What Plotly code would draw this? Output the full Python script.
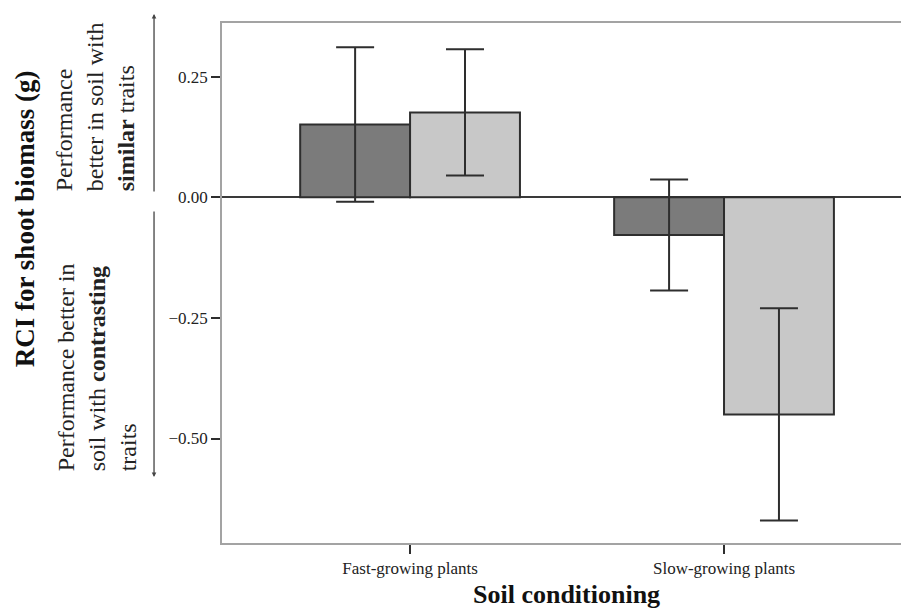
import plotly.graph_objects as go

categories = ["Fast-growing plants", "Slow-growing plants"]
dark_values = [0.151, -0.078]
dark_errors = [0.160, 0.115]
light_values = [0.176, -0.450]
light_errors = [0.131, 0.220]
y_tickvals = [0.25, 0.0, -0.25, -0.50]
y_ticktext = ["0.25", "0.00", "\u22120.25", "\u22120.50"]

FONT = "Liberation Serif, Times New Roman, serif"
INK = "#2e2e2e"

fig = go.Figure()
fig.add_trace(go.Bar(
    x=categories, y=dark_values, name="Series A",
    marker=dict(color="#7b7b7b", line=dict(color=INK, width=2)),
    error_y=dict(type="data", array=dark_errors, color=INK, thickness=2, width=19),
))
fig.add_trace(go.Bar(
    x=categories, y=light_values, name="Series B",
    marker=dict(color="#c8c8c8", line=dict(color=INK, width=2)),
    error_y=dict(type="data", array=light_errors, color=INK, thickness=2, width=19),
))

fig.update_layout(
    width=901, height=608,
    margin=dict(l=222, r=0, t=23, b=65),
    paper_bgcolor="white", plot_bgcolor="white",
    barmode="group", bargap=0.30, bargroupgap=0,
    showlegend=False,
    font=dict(family=FONT, color="#222", size=17),
)
fig.update_xaxes(
    range=[-0.599, 1.5637],
    showline=True, linecolor="#a3a3a3", linewidth=1.5, mirror=True,
    ticks="outside", ticklen=9, tickwidth=1.5, tickcolor=INK,
    tickfont=dict(family=FONT, size=17, color="#222"),
    showgrid=False, zeroline=False,
)
fig.update_yaxes(
    range=[-0.7166, 0.3613],
    tickvals=y_tickvals, ticktext=y_ticktext,
    showline=True, linecolor="#a3a3a3", linewidth=1.5, mirror=False,
    ticks="outside", ticklen=9, tickwidth=1.5, tickcolor=INK,
    tickfont=dict(family=FONT, size=17, color="#222"),
    showgrid=False,
    zeroline=True, zerolinecolor="#3a3a3a", zerolinewidth=2,
)

# Axis titles as annotations
fig.add_annotation(
    text="<b>Soil conditioning</b>", xref="paper", yref="paper",
    x=0.508, y=-0.099, xanchor="center", yanchor="middle", showarrow=False,
    font=dict(family=FONT, size=26, color="#111"),
)
fig.add_annotation(
    text="<b>RCI for shoot biomass (g)</b>", xref="paper", yref="paper",
    x=-0.290, y=0.623, xanchor="center", yanchor="middle", showarrow=False,
    textangle=-90, font=dict(family=FONT, size=27, color="#111"),
)
# Side explanatory texts
fig.add_annotation(
    text="Performance<br>better in soil with<br><b>similar</b> traits",
    xref="paper", yref="paper", x=-0.187, y=0.838,
    xanchor="center", yanchor="middle", showarrow=False, align="left",
    textangle=-90, font=dict(family=FONT, size=24, color="#222"),
)
fig.add_annotation(
    text="Performance better in<br>soil with <b>contrasting</b><br>traits",
    xref="paper", yref="paper", x=-0.184, y=0.338,
    xanchor="center", yanchor="middle", showarrow=False, align="left",
    textangle=-90, font=dict(family=FONT, size=24, color="#222"),
)
# Arrows
fig.add_annotation(
    text="", xref="paper", yref="paper", x=-0.1001, y=1.0173,
    ax=0, ay=179, showarrow=True, arrowhead=2, arrowsize=0.7,
    arrowwidth=1.3, arrowcolor="#444",
)
fig.add_annotation(
    text="", xref="paper", yref="paper", x=-0.1001, y=0.127,
    ax=0, ay=-267, showarrow=True, arrowhead=2, arrowsize=0.7,
    arrowwidth=1.3, arrowcolor="#444",
)

fig.write_html(
    "out.html",
    config={"displayModeBar": False},
    post_script="document.body.style.margin='0';document.body.style.overflow='hidden';",
)
